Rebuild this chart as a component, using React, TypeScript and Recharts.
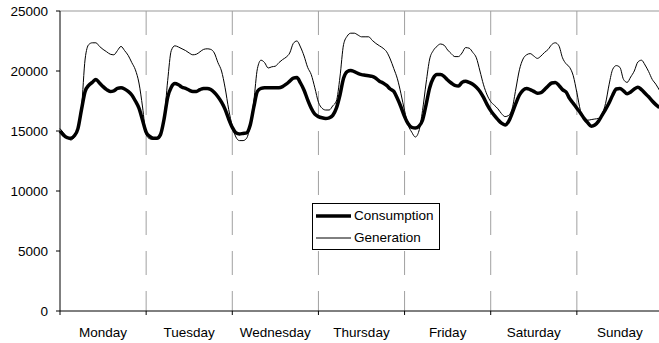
import { LineChart, Line, XAxis, YAxis, ReferenceLine, Legend } from "recharts";

const days = ["Monday", "Tuesday", "Wednesday", "Thursday", "Friday", "Saturday", "Sunday"];

// hourly values, one array per day
const consMon = [15000, 14650, 14450, 14400, 14600, 15200, 16800, 18300, 18800, 19050, 19300, 19000, 18700, 18450, 18300, 18350, 18550, 18600, 18500, 18300, 18000, 17500, 16900, 15900];
const consTue = [14900, 14550, 14400, 14400, 14700, 16000, 17800, 18650, 18950, 18850, 18650, 18550, 18400, 18300, 18300, 18450, 18550, 18550, 18450, 18200, 17850, 17400, 16800, 16000];
const consWed = [15300, 14850, 14750, 14800, 14850, 15500, 17000, 18300, 18550, 18600, 18600, 18600, 18600, 18600, 18700, 18900, 19150, 19400, 19450, 19000, 18400, 17600, 16900, 16400];
const consThu = [16200, 16100, 16050, 16100, 16300, 16900, 18000, 19400, 19950, 20050, 19950, 19800, 19700, 19650, 19600, 19550, 19400, 19150, 19000, 18800, 18500, 18300, 17700, 17000];
const consFri = [16200, 15600, 15300, 15250, 15400, 15900, 17200, 18600, 19400, 19700, 19700, 19550, 19250, 19000, 18800, 18750, 19050, 19150, 19050, 18900, 18650, 18300, 17800, 17200];
const consSat = [16700, 16300, 15950, 15650, 15500, 15800, 16500, 17300, 18000, 18400, 18550, 18450, 18300, 18150, 18200, 18450, 18750, 19000, 19050, 18800, 18450, 18250, 17700, 17300];
const consSun = [16900, 16500, 16050, 15700, 15400, 15500, 15800, 16300, 16800, 17350, 18000, 18500, 18550, 18350, 18100, 18250, 18500, 18650, 18450, 18150, 17850, 17500, 17200, 16950];

const genMon = [15200, 14850, 14450, 14250, 14500, 15300, 17000, 21000, 22200, 22350, 22350, 22050, 21800, 21600, 21400, 21350, 21700, 22050, 21700, 21300, 20700, 20100, 19000, 17000];
const genTue = [14700, 14350, 14300, 14400, 14800, 16000, 19200, 21700, 22100, 22000, 21850, 21700, 21500, 21350, 21400, 21600, 21800, 21850, 21800, 21500, 20700, 20000, 18600, 16800];
const genWed = [15400, 14500, 14200, 14200, 14400, 15500, 17500, 20200, 20900, 20700, 20250, 20350, 20400, 20700, 20950, 21150, 21500, 22300, 22500, 22000, 21250, 20300, 19700, 18600];
const genThu = [17400, 16900, 16750, 16750, 17100, 17500, 19500, 22200, 22900, 23150, 23150, 23000, 22850, 22850, 22850, 22550, 22300, 22100, 21900, 21600, 21000, 20200, 19350, 18100];
const genFri = [16700, 15500, 14900, 14500, 15000, 16700, 19000, 21000, 21700, 22050, 22250, 22150, 21750, 21450, 21200, 21200, 21500, 21950, 21900, 21550, 21100, 20000, 18850, 18000];
const genSat = [17450, 17150, 16850, 16450, 16200, 16300, 16900, 18500, 20100, 21000, 21350, 21450, 21250, 21050, 21250, 21550, 21800, 22200, 22350, 22100, 21100, 20600, 20300, 19600];
const genSun = [18200, 16700, 16000, 15900, 15950, 16000, 16050, 16400, 17300, 18900, 20150, 20450, 20300, 19300, 19050, 19500, 20000, 20750, 20900, 20500, 19950, 19300, 18900, 18400];

const yTicks = [0, 5000, 10000, 15000, 20000, 25000];
const dayTicks = [0, 24, 48, 72, 96, 120, 144, 168];
const dayLines = [24, 48, 72, 96, 120, 144];

const consumption = [...consMon, ...consTue, ...consWed, ...consThu, ...consFri, ...consSat, ...consSun];
const generation = [...genMon, ...genTue, ...genWed, ...genThu, ...genFri, ...genSat, ...genSun];

const rows = consumption.map((c, i) => ({ idx: i, consumption: c, generation: generation[i] }));

const FONT = '"Liberation Sans", Arial, sans-serif';
const W = 680;
const H = 343;
const margin = { top: 11, right: 17, bottom: 0, left: 0 };
const Y_AXIS_W = 60;
const DAY_PX = (W - margin.left - margin.right - Y_AXIS_W) / days.length;

const strokeWidths: Record<string, number> = { consumption: 3.5, generation: 1 };

function DayTick({ x, y, payload }: any) {
  const i = payload.value / 24;
  if (i >= days.length) return null;
  return (
    <text x={x + DAY_PX / 2} y={y} dy="0.71em" textAnchor="middle" fill="#000" fontSize={13.5} fontFamily={FONT}>
      {days[i]}
    </text>
  );
}

function LegendBox({ payload }: any) {
  return (
    <div
      style={{
        width: 126,
        height: 44,
        paddingTop: 1,
        boxSizing: "content-box",
        border: "1px solid #000",
        background: "#fff",
        fontFamily: FONT,
        fontSize: 13.5,
        color: "#000",
      }}
    >
      {(payload || []).map((p: any) => (
        <div key={p.dataKey} style={{ display: "flex", alignItems: "center", height: 22 }}>
          <svg width={40} height={8} style={{ display: "block" }}>
            <line x1={3} x2={38} y1={4} y2={4} stroke="#000" strokeWidth={strokeWidths[p.dataKey]} />
          </svg>
          <span style={{ marginLeft: 1, lineHeight: "22px" }}>{p.value}</span>
        </div>
      ))}
    </div>
  );
}

export default function App() {
  return (
    <div style={{ position: "absolute", left: 0, top: 0, width: 659, height: 343, overflow: "hidden", background: "#fff" }}>
      <LineChart width={W} height={H} data={rows} margin={margin}>
        <ReferenceLine y={25000} stroke="#999" strokeWidth={1} ifOverflow="visible" />
        {dayLines.map((d) => (
          <ReferenceLine
            key={d}
            segment={[
              { x: d, y: 25000 },
              { x: d, y: 0 },
            ]}
            stroke="#a0a0a0"
            strokeDasharray="24 16"
          />
        ))}
        <XAxis
          dataKey="idx"
          type="number"
          domain={[0, 168]}
          ticks={dayTicks}
          interval={0}
          height={32}
          tickSize={4}
          tickMargin={12}
          axisLine={{ stroke: "#000" }}
          tickLine={{ stroke: "#000" }}
          tick={<DayTick />}
        />
        <YAxis
          domain={[0, 25000]}
          ticks={yTicks}
          width={Y_AXIS_W}
          tickSize={4}
          tickMargin={8}
          axisLine={{ stroke: "#000" }}
          tickLine={{ stroke: "#000" }}
          tick={{ fill: "#000", fontSize: 13.5, fontFamily: FONT }}
        />
        <Legend
          layout="horizontal"
          verticalAlign="middle"
          align="center"
          content={<LegendBox />}
          wrapperStyle={{ left: 312, top: 203, width: "auto", height: "auto" }}
        />
        <Line
          type="monotone"
          dataKey="consumption"
          name="Consumption"
          stroke="#000"
          strokeWidth={strokeWidths.consumption}
          dot={false}
          isAnimationActive={false}
        />
        <Line
          type="monotone"
          dataKey="generation"
          name="Generation"
          stroke="#000"
          strokeWidth={strokeWidths.generation}
          dot={false}
          isAnimationActive={false}
        />
      </LineChart>
    </div>
  );
}
